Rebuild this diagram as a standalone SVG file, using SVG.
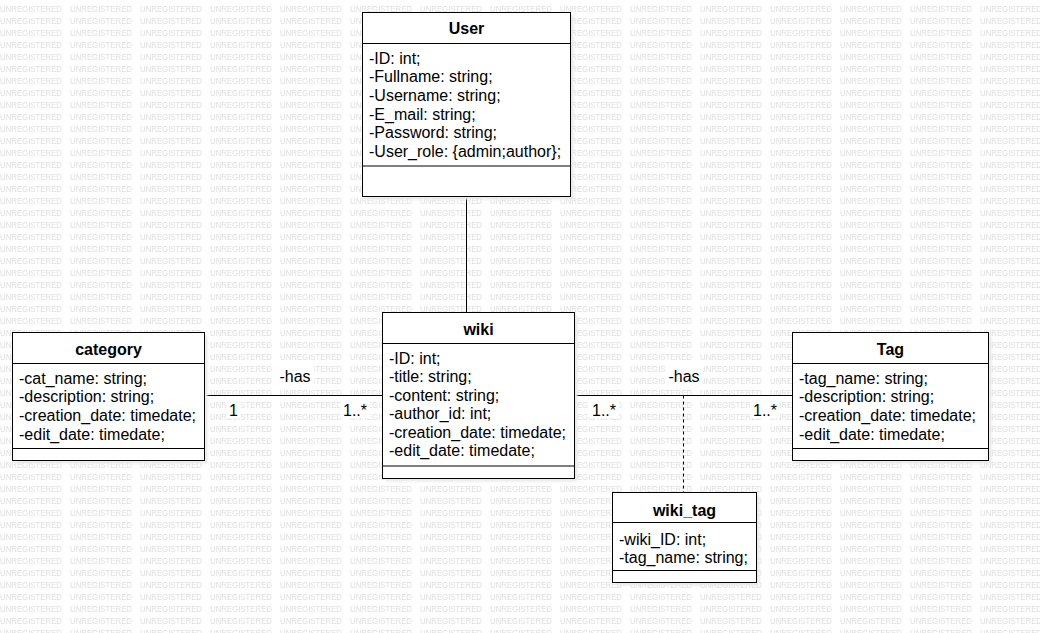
<svg xmlns="http://www.w3.org/2000/svg" width="1040" height="633" viewBox="0 0 1040 633">
<style>
.wm{font-family:"Liberation Sans",Arial,sans-serif;font-size:9.5px;fill:#dfdfdf}
.box{fill:#fff;stroke:#000;stroke-width:1}
.sh{fill:#eaeaea}
.ln{stroke:#000;stroke-width:1;fill:none}
.hd{font-family:"Liberation Sans",Arial,sans-serif;font-size:16px;font-weight:bold;text-anchor:middle;fill:#000}
.at{font-family:"Liberation Sans",Arial,sans-serif;font-size:16px;fill:#000}
.lb{font-family:"Liberation Sans",Arial,sans-serif;font-size:16px;fill:#000}
.bg{fill:#fff}
</style>
<defs>
<pattern id="wmp" patternUnits="userSpaceOnUse" x="0" y="0" width="70" height="12">
<rect width="70" height="12" fill="#fff"/>
<text class="wm" x="0" y="11.5" textLength="62" lengthAdjust="spacingAndGlyphs">UNREGISTERED</text>
</pattern>
<filter id="blur" x="-10%" y="-10%" width="120%" height="120%"><feGaussianBlur stdDeviation="1.2"/></filter>
</defs>
<rect width="1040" height="633" fill="url(#wmp)"/>

<g id="connectors">
<line class="ln" x1="466.5" y1="196.5" x2="466.5" y2="312.5"/>
<line class="ln" x1="204.5" y1="395.5" x2="382.5" y2="395.5"/>
<line class="ln" x1="574.5" y1="395.5" x2="792.5" y2="395.5"/>
<line class="ln" x1="683.5" y1="395.5" x2="683.5" y2="492.5" stroke-dasharray="3 3"/>
<rect class="bg" x="276" y="366" width="38" height="18"/>
<text class="lb" x="295" y="381.5" text-anchor="middle">-has</text>
<rect class="bg" x="226" y="402" width="14" height="16"/>
<text class="lb" x="229" y="416">1</text>
<rect class="bg" x="340" y="401" width="30" height="17"/>
<text class="lb" x="343" y="416">1..*</text>
<rect class="bg" x="665" y="366" width="38" height="18"/>
<text class="lb" x="684" y="381.5" text-anchor="middle">-has</text>
<rect class="bg" x="589" y="401" width="30" height="17"/>
<text class="lb" x="592" y="416">1..*</text>
<rect class="bg" x="750" y="401" width="30" height="17"/>
<text class="lb" x="753" y="416">1..*</text>
</g>

<g id="User">
<rect class="sh" x="365.5" y="15.5" width="208" height="184" filter="url(#blur)"/>
<rect class="box" x="362.5" y="12.5" width="208" height="184"/>
<line class="ln" x1="362.5" y1="43.5" x2="570.5" y2="43.5"/>
<line class="ln" x1="362.5" y1="166" x2="570.5" y2="166"/>
<text class="hd" x="466.5" y="34">User</text>
<text class="at" x="369" y="63.5">-ID: int;</text>
<text class="at" x="369" y="82.2">-Fullname: string;</text>
<text class="at" x="369" y="100.9">-Username: string;</text>
<text class="at" x="369" y="119.6">-E_mail: string;</text>
<text class="at" x="369" y="138.3">-Password: string;</text>
<text class="at" x="369" y="157">-User_role: {admin;author};</text>
</g>

<g id="category">
<rect class="sh" x="15.5" y="335.5" width="192" height="128" filter="url(#blur)"/>
<rect class="box" x="12.5" y="332.5" width="192" height="128"/>
<line class="ln" x1="12.5" y1="363.5" x2="204.5" y2="363.5"/>
<line class="ln" x1="12.5" y1="448.5" x2="204.5" y2="448.5"/>
<text class="hd" x="108.5" y="355">category</text>
<text class="at" x="19" y="383.5">-cat_name: string;</text>
<text class="at" x="19" y="402.2">-description: string;</text>
<text class="at" x="19" y="421.2">-creation_date: timedate;</text>
<text class="at" x="19" y="439.5">-edit_date: timedate;</text>
</g>

<g id="wiki">
<rect class="sh" x="385.5" y="315.5" width="192" height="166" filter="url(#blur)"/>
<rect class="box" x="382.5" y="312.5" width="192" height="166"/>
<line class="ln" x1="382.5" y1="343.5" x2="574.5" y2="343.5"/>
<line class="ln" x1="382.5" y1="466" x2="574.5" y2="466"/>
<text class="hd" x="478.5" y="335">wiki</text>
<text class="at" x="389" y="363.8">-ID: int;</text>
<text class="at" x="389" y="381.7">-title: string;</text>
<text class="at" x="389" y="400.5">-content: string;</text>
<text class="at" x="389" y="419.3">-author_id: int;</text>
<text class="at" x="389" y="438.3">-creation_date: timedate;</text>
<text class="at" x="389" y="456.2">-edit_date: timedate;</text>
</g>

<g id="Tag">
<rect class="sh" x="795.5" y="335.5" width="196" height="128" filter="url(#blur)"/>
<rect class="box" x="792.5" y="332.5" width="196" height="128"/>
<line class="ln" x1="792.5" y1="363.5" x2="988.5" y2="363.5"/>
<line class="ln" x1="792.5" y1="448.5" x2="988.5" y2="448.5"/>
<text class="hd" x="890.5" y="355">Tag</text>
<text class="at" x="799" y="383.5">-tag_name: string;</text>
<text class="at" x="799" y="402.2">-description: string;</text>
<text class="at" x="799" y="421.2">-creation_date: timedate;</text>
<text class="at" x="799" y="439.5">-edit_date: timedate;</text>
</g>

<g id="wiki_tag">
<rect class="sh" x="615.5" y="495.5" width="144" height="90" filter="url(#blur)"/>
<rect class="box" x="612.5" y="492.5" width="144" height="90"/>
<line class="ln" x1="612.5" y1="522.5" x2="756.5" y2="522.5"/>
<line class="ln" x1="612.5" y1="570.5" x2="756.5" y2="570.5"/>
<text class="hd" x="684.5" y="515.5">wiki_tag</text>
<text class="at" x="619" y="544.8">-wiki_ID: int;</text>
<text class="at" x="619" y="562.8">-tag_name: string;</text>
</g>
</svg>
